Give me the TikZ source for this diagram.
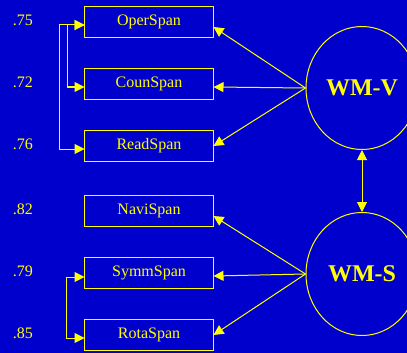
\documentclass[tikz,border=0pt]{standalone}
\usepackage{fontspec}
\setmainfont{Liberation Serif}
\usetikzlibrary{matrix,arrows.meta,shapes.geometric}
\definecolor{semblue}{RGB}{0,0,204}
\definecolor{semyellow}{RGB}{255,255,0}

\begin{document}
\begin{tikzpicture}[x=1pt,y=1pt,
    box/.style={draw=semyellow, line width=1pt, minimum width=129pt, minimum height=31pt, inner sep=0pt},
    factor/.style={ellipse, draw=semyellow, line width=1pt, text=semyellow, minimum width=112pt, minimum height=123pt, font=\fontsize{24}{26}\selectfont\bfseries},
    load/.style={draw=semyellow, line width=1pt, -{Triangle[length=10pt,width=10pt]}},
    covar/.style={draw=semyellow, line width=1pt, {Triangle[length=10pt,width=10pt]}-{Triangle[length=10pt,width=10pt]}}]
  \fill[semblue] (0,0) rectangle (407,-353);
  \useasboundingbox (0,0) rectangle (407,-353);
  \matrix (m) [matrix of nodes, anchor=north east, inner sep=0pt, outer sep=0pt, row sep=30pt, column sep=48pt,
    nodes={text=semyellow, font=\fontsize{16}{18}\selectfont, inner sep=3pt},
    column 2/.style={nodes={box}}] at (214,-6)
  {
    .75 & OperSpan \\
    .72 & CounSpan \\
    .76 & ReadSpan \\[3pt]
    .82 & NaviSpan \\
    .79 & SymmSpan \\
    .85 & RotaSpan \\
  };
  \node[factor] (wmv) at (362,-88) {WM-V};
  \node[factor] (wms) at (362,-274) {WM-S};
  % factor loadings
  \foreach \r/\s in {1/5,2/3,3/0}
    \path[load] (wmv.west) -- ([yshift=-\s pt]m-\r-2.east);
  \foreach \r/\s in {4/5,5/3,6/0}
    \path[load] (wms.west) -- ([yshift=-\s pt]m-\r-2.east);
  \path[covar] (wmv.south) -- (wms.north);
  % error covariances
  \path[covar] ([yshift=-3pt]m-1-2.west) -- ++(-25,0) |- ([yshift=-3pt]m-3-2.west);
  \path[covar] ([yshift=-3pt]m-1-2.west) -- ++(-17,0) |- ([yshift=-3pt]m-2-2.west);
  \path[covar] ([yshift=-4pt]m-5-2.west) -- ++(-18,0) |- ([yshift=-3pt]m-6-2.west);
\end{tikzpicture}
\end{document}
